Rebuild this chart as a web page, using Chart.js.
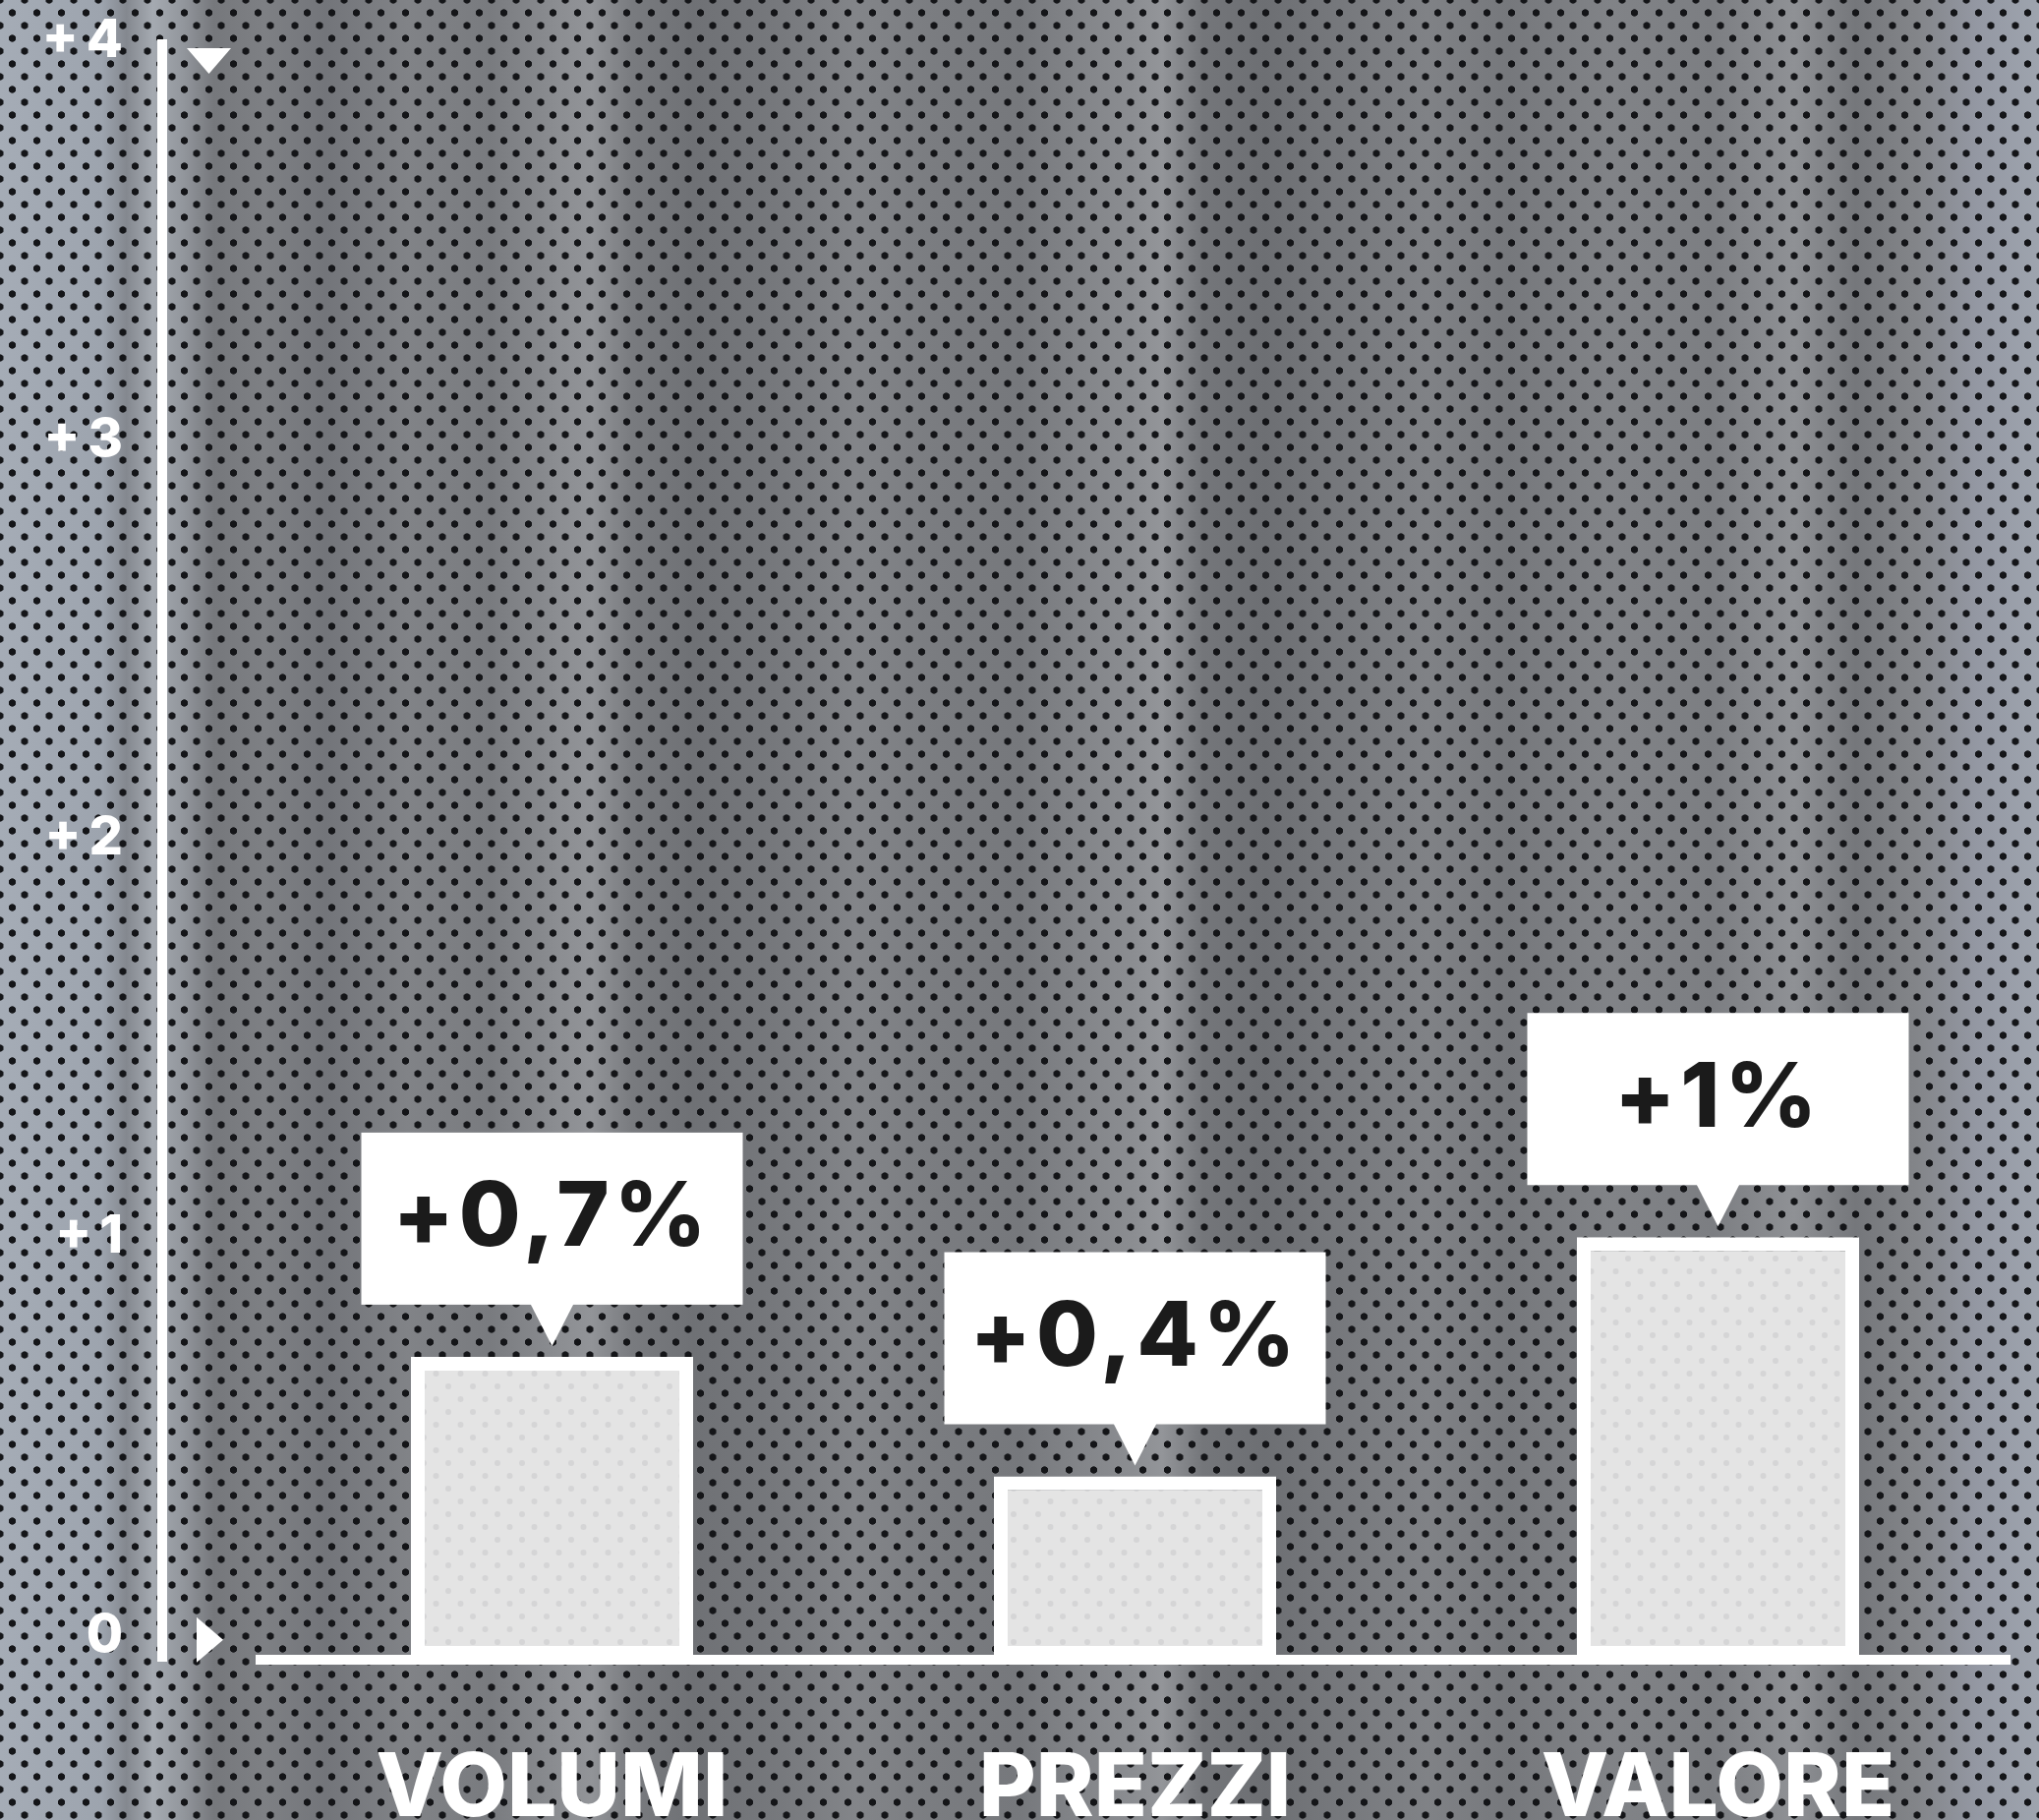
<!DOCTYPE html>
<html lang="it">
<head>
<meta charset="utf-8">
<title>Volumi, prezzi, valore</title>
<script src="https://cdn.jsdelivr.net/npm/chart.js@4.4.1/dist/chart.umd.min.js"></script>
<style>
    html, body {
        margin: 0;
        padding: 0;
        width: 2074px;
        height: 1851px;
        overflow: hidden;
    }
    body {
        background-color: #7c7e82;
        background-image:
            radial-gradient(circle, #141518 3.3px, transparent 4px),
            radial-gradient(circle, #141518 3.3px, transparent 4px),
            linear-gradient(90deg,
                #a5acb6 0%, #9da4ae 5%, #84888f 6.2%, #a5aab1 7.5%, #92969c 9%,
                #76787c 10.5%, #7e8084 13%, #73757a 16%, #818387 20%, #797b7f 24%,
                #8c8e92 27.5%, #929498 29%, #797b7f 31%, #6f7175 34%, #76787c 38%,
                #838589 42%, #7a7c80 46%, #76787c 50%, #838589 53%, #8b8d91 55.5%,
                #939599 57%, #74767a 59%, #6d6f73 62%, #77797d 66%, #808286 70%,
                #76787c 74%, #818387 79%, #7c7e82 84%, #8f9195 88%, #75777b 91%,
                #838589 94%, #9498a3 97%, #9ea4ae 100%);
        background-size: 25px 26px, 25px 26px, 100% 100%;
        background-position: 0 0, 12.5px 13px, 0 0;
    }
    canvas {
        display: block;
    }
</style>
</head>
<body>
<canvas id="chart" width="2074" height="1851"></canvas>
<script>
// data
const categories = ['VOLUMI', 'PREZZI', 'VALORE'];
const changes = [0.7, 0.4, 1];
const changeLabels = ['+0,7%', '+0,4%', '+1%'];
const yTickValues = [0, 1, 2, 3, 4];

const yMin = -0.06;
const yMax = 4;
const fontFamily = 'Inter, "Open Sans", "DejaVu Sans", sans-serif';

/**
 * Builds the light dotted fill used inside the bars.
 */
function barPattern() {
    let tile = document.createElement('canvas');
    tile.width = 25;
    tile.height = 26;
    let c = tile.getContext('2d');
    c.fillStyle = '#e4e4e4';
    c.fillRect(0, 0, 25, 26);
    c.fillStyle = '#d5d5d6';
    [[6, 6], [18.5, 19]].forEach(p => {
        c.beginPath();
        c.arc(p[0], p[1], 3, 0, Math.PI * 2);
        c.fill();
    });
    return document.getElementById('chart').getContext('2d').createPattern(tile, 'repeat');
}

// axis line with its arrows and the white callouts above the bars
const decorPlugin = {
    id: 'decor',
    afterDatasetsDraw(chart) {
        let ctx = chart.ctx;
        let area = chart.chartArea;
        let y = chart.scales.y;
        let axisX = area.left - 100;
        let top = y.getPixelForValue(yMax);
        let zero = y.getPixelForValue(0);

        ctx.save();
        ctx.fillStyle = '#ffffff';
        ctx.fillRect(axisX - 5, top - 2, 10, area.bottom + 2 - (top - 2));

        ctx.beginPath();
        ctx.moveTo(axisX + 25, top + 7);
        ctx.lineTo(axisX + 70, top + 7);
        ctx.lineTo(axisX + 47.5, top + 33);
        ctx.closePath();
        ctx.fill();

        ctx.beginPath();
        ctx.moveTo(axisX + 35, zero + 4 - 23);
        ctx.lineTo(axisX + 62, zero + 4);
        ctx.lineTo(axisX + 35, zero + 4 + 23);
        ctx.closePath();
        ctx.fill();

        let meta = chart.getDatasetMeta(0);
        meta.data.forEach((bar, i) => {
            let boxW = 388;
            let boxH = 175;
            let boxBottom = bar.y - 53;
            let boxTop = boxBottom - boxH;

            ctx.fillStyle = '#ffffff';
            ctx.fillRect(bar.x - boxW / 2, boxTop, boxW, boxH);
            ctx.beginPath();
            ctx.moveTo(bar.x - 22, boxBottom - 1);
            ctx.lineTo(bar.x + 22, boxBottom - 1);
            ctx.lineTo(bar.x, bar.y - 11);
            ctx.closePath();
            ctx.fill();

            ctx.fillStyle = '#1b1b1b';
            ctx.font = '800 91px ' + fontFamily;
            ctx.textAlign = 'center';
            ctx.textBaseline = 'alphabetic';
            if ('letterSpacing' in ctx) {
                ctx.letterSpacing = '5px';
            }
            ctx.fillText(changeLabels[i], bar.x, boxTop + boxH / 2 + 28);
        });
        ctx.restore();
    }
};

new Chart(document.getElementById('chart'), {
    type: 'bar',
    data: {
        labels: categories,
        datasets: [{
            data: changes,
            base: yMin,
            backgroundColor: barPattern(),
            borderColor: '#ffffff',
            borderWidth: 14,
            borderSkipped: false,
            barPercentage: 0.484,
            categoryPercentage: 1
        }]
    },
    options: {
        responsive: false,
        animation: false,
        events: [],
        layout: {
            padding: {
                top: 42,
                left: 10,
                right: 30,
                bottom: 0
            }
        },
        plugins: {
            legend: {
                display: false
            },
            tooltip: {
                enabled: false
            }
        },
        scales: {
            x: {
                grid: {
                    display: false
                },
                border: {
                    display: true,
                    color: '#ffffff',
                    width: 10
                },
                ticks: {
                    color: '#ffffff',
                    padding: 71,
                    font: {
                        family: fontFamily,
                        size: 89,
                        weight: '800'
                    }
                },
                afterFit: function (scale) {
                    scale.height = 163;
                }
            },
            y: {
                min: yMin,
                max: yMax,
                grid: {
                    display: false,
                    drawTicks: false
                },
                border: {
                    display: false
                },
                afterBuildTicks: function (scale) {
                    scale.ticks = yTickValues.map(v => ({value: v}));
                },
                afterFit: function (scale) {
                    scale.width = 255;
                    scale.paddingTop = 30;
                    scale.paddingBottom = 30;
                },
                ticks: {
                    color: '#ffffff',
                    padding: 140,
                    font: {
                        family: fontFamily,
                        size: 54,
                        weight: '800'
                    },
                    callback: function (value) {
                        return value === 0 ? '0' : '+\u2009' + value;
                    }
                }
            }
        }
    },
    plugins: [decorPlugin]
});
</script>
</body>
</html>
